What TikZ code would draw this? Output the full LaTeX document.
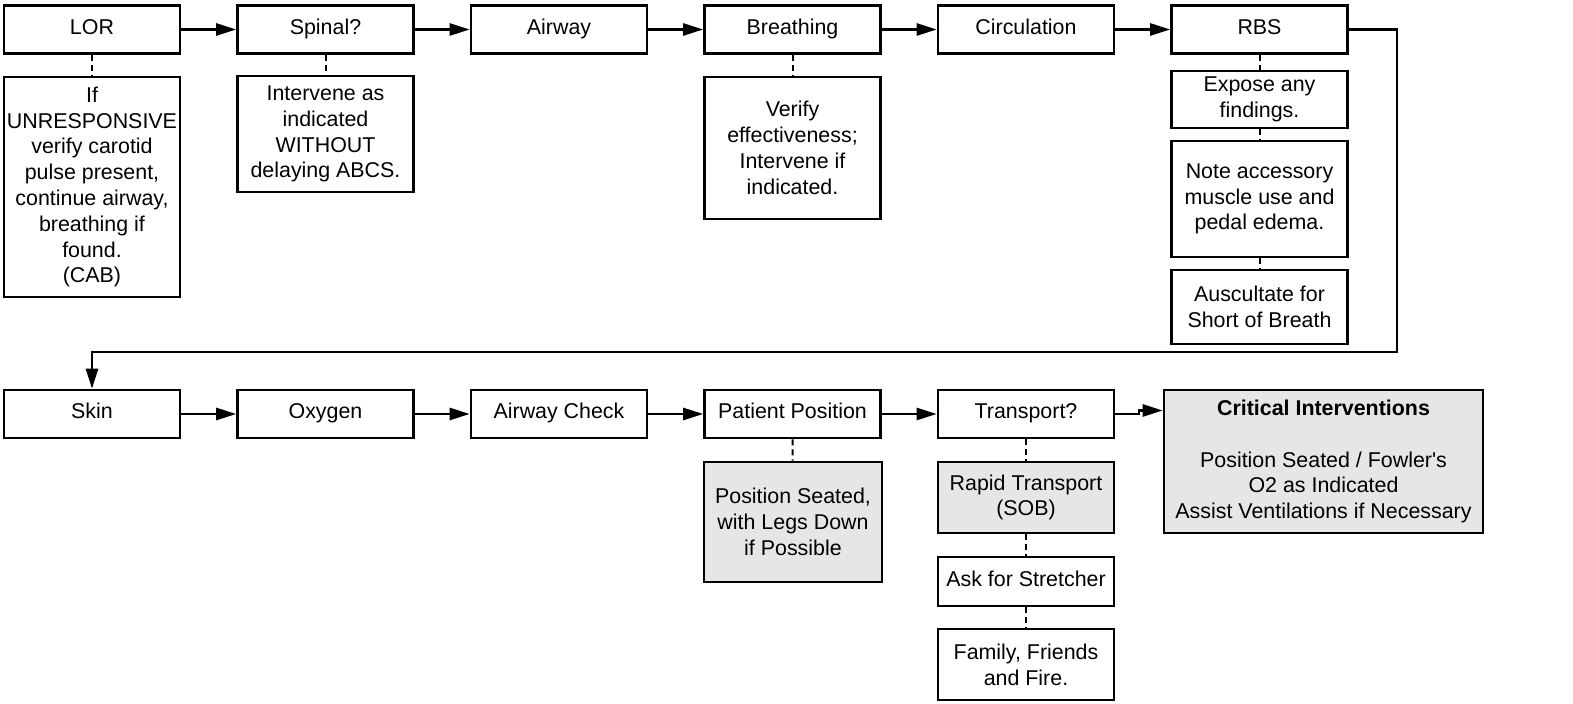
\documentclass[tikz,border=0pt]{standalone}
\usepackage{fontspec}
\setmainfont{Liberation Sans}
\usetikzlibrary{arrows.meta}
\definecolor{notegray}{HTML}{E6E6E6}

\begin{document}
\begin{tikzpicture}[x=0.5pt,y=-0.5pt,
    every node/.style={font=\fontsize{10.7}{12.9}\selectfont},
    stepbox/.style={draw,line width=1.3pt,minimum width=88pt,minimum height=24pt,align=center,inner sep=1pt},
    oneline/.style={stepbox,text height=8pt,text depth=3pt},
    graybox/.style={stepbox,fill=notegray},
    flow/.style={line width=1.3pt,-{Triangle[length=10pt,width=6pt]}},
    link/.style={line width=1pt,dash pattern=on 3pt off 2pt}]

    \useasboundingbox (0,0) rectangle (1573,704);

    % top row
    \node[oneline] (lor)     at (92,29.5)     {LOR};
    \node[oneline] (spinal)  at (325.5,29.5)  {Spinal?};
    \node[oneline] (airway)  at (559,29.5)    {Airway};
    \node[oneline] (breath)  at (792.5,29.5)  {Breathing};
    \node[oneline] (circ)    at (1026,29.5)   {Circulation};
    \node[oneline] (rbs)     at (1259.5,29.5) {RBS};

    \node[stepbox,minimum height=110pt] (lornote) at (92,187)
        {If\\UNRESPONSIVE\\verify carotid\\pulse present,\\continue airway,\\breathing if\\found.\\(CAB)};
    \node[stepbox,minimum height=58pt] (spinalnote) at (325.5,134)
        {Intervene as\\indicated\\WITHOUT\\delaying ABCS.};
    \node[stepbox,minimum height=71pt] (breathnote) at (792.5,148)
        {Verify\\effectiveness;\\Intervene if\\indicated.};
    \node[stepbox,minimum height=28.5pt] (expose) at (1259.5,99.5)
        {Expose any\\findings.};
    \node[stepbox,minimum height=58pt] (muscle) at (1259.5,199)
        {Note accessory\\muscle use and\\pedal edema.};
    \node[stepbox,minimum height=37pt] (auscult) at (1259.5,307)
        {Auscultate for\\Short of Breath};

    % bottom row
    \node[oneline] (skin)      at (92,414)     {Skin};
    \node[oneline] (oxygen)    at (325.5,414)  {Oxygen};
    \node[oneline] (check)     at (559,414)    {Airway Check};
    \node[oneline] (position)  at (792.5,414)  {Patient Position};
    \node[oneline] (transport) at (1026,414)   {Transport?};

    \node[graybox,minimum width=89pt,minimum height=60pt] (positionnote) at (793,522)
        {Position Seated,\\with Legs Down\\if Possible};
    \node[graybox,minimum height=35.5pt] (rapid) at (1026,497.5)
        {Rapid Transport\\(SOB)};
    \node[oneline,minimum height=24.5pt] (stretcher) at (1026,581.5)
        {Ask for Stretcher};
    \node[stepbox,minimum height=35.5pt] (family) at (1026,664.5)
        {Family, Friends\\and Fire.};
    \node[graybox,minimum width=159.5pt,minimum height=71.5pt] (critical) at (1323.5,461.5)
        {\textbf{Critical Interventions}\\[12.9pt]Position Seated / Fowler\textquotesingle s\\O2 as Indicated\\Assist Ventilations if Necessary};

    \coordinate (turn) at (1397,352);
    \coordinate (jog) at (1139,410.5);

    % flow arrows
    \draw[flow] (lor) -- (spinal);
    \draw[flow] (spinal) -- (airway);
    \draw[flow] (airway) -- (breath);
    \draw[flow] (breath) -- (circ);
    \draw[flow] (circ) -- (rbs);
    \draw[flow] (rbs.east) -| (turn) -| (skin.north);
    \draw[flow] (skin) -- (oxygen);
    \draw[flow] (oxygen) -- (check);
    \draw[flow] (check) -- (position);
    \draw[flow] (position) -- (transport);
    \draw[flow] (transport.east) -| (jog) -- (critical.west |- jog);

    % dashed links
    \draw[link] (lor) -- (lornote);
    \draw[link] (spinal) -- (spinalnote);
    \draw[link] (breath) -- (breathnote);
    \draw[link] (rbs) -- (expose);
    \draw[link] (expose) -- (muscle);
    \draw[link] (muscle) -- (auscult);
    \draw[link] (position) -- (positionnote);
    \draw[link] (transport) -- (rapid);
    \draw[link] (rapid) -- (stretcher);
    \draw[link] (stretcher) -- (family);

\end{tikzpicture}
\end{document}
